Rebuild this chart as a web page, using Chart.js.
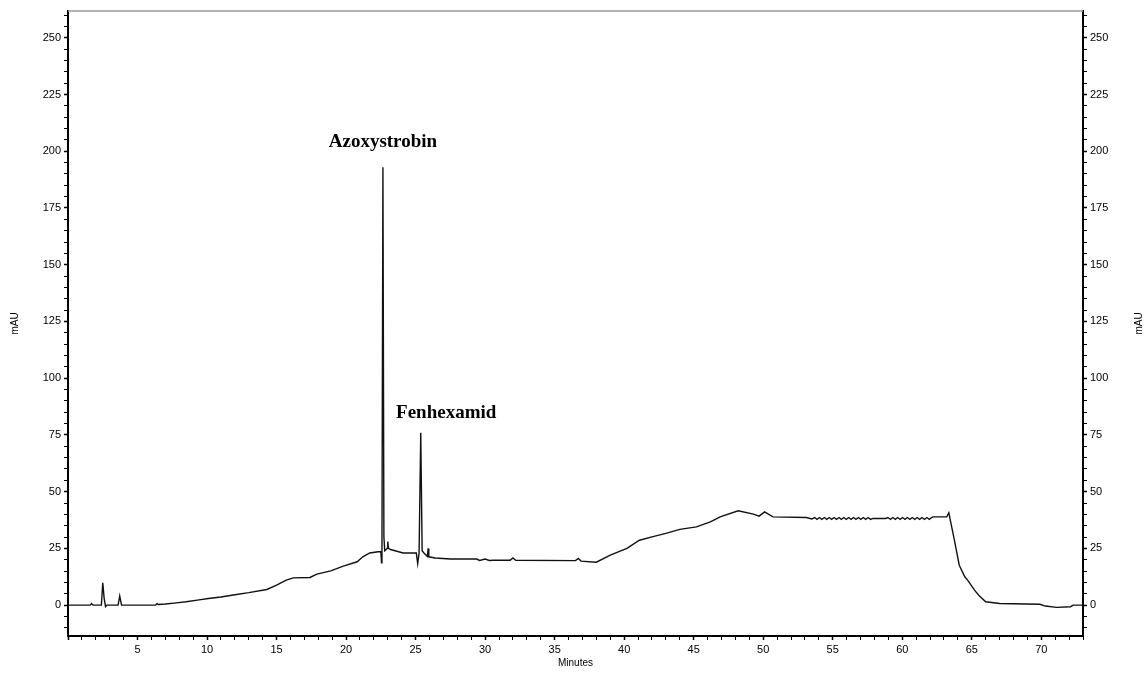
<!DOCTYPE html>
<html>
<head>
<meta charset="utf-8">
<script src="https://cdn.jsdelivr.net/npm/chart.js@4.4.0/dist/chart.umd.min.js"></script>
<style>
  html, body { margin: 0; padding: 0; background: #fff; }
  #wrap { position: relative; width: 1145px; height: 674px; }
</style>
</head>
<body>
<div id="wrap"><canvas id="chrom"></canvas></div>
<script>
// === CHROMATOGRAM DATA (minutes, mAU) ===
const times = [
  0, 1.6, 1.7, 1.8, 2.4, 2.5, 2.6, 2.7, 2.8, 3.6, 3.72, 3.85,
  6.3, 6.4, 6.5, 7.0, 7.8, 8.5, 9.3, 10.1, 11, 12, 13, 14.3, 15.0, 15.7, 16.2, 17.4,
  17.9, 18.9, 19.8, 20.8, 21.2, 21.7, 22.3, 22.5, 22.55, 22.58, 22.65, 22.72, 22.78,
  22.95, 23.0, 23.05, 23.2, 24.1, 25.05, 25.15, 25.25, 25.37, 25.47, 25.6, 25.85, 25.9, 25.95,
  26.4, 27.5, 29.4, 29.6, 30.0, 30.3, 30.6, 31.8, 32.0, 32.2, 36.5, 36.7, 36.9, 38.0,
  39.0, 40.2, 41.1, 42.0, 43.0, 44.0, 45.2, 46.2, 46.9, 48.2, 49.3, 49.7, 50.1, 50.7, 53.1, 53.5,
  53.7, 53.87, 54.05, 54.22, 54.4, 54.57, 54.75, 54.92, 55.1, 55.27, 55.45, 55.62, 55.8, 55.97,
  56.15, 56.32, 56.5, 56.67, 56.85, 57.02, 57.2, 57.37, 57.55, 57.72, 57.9,
  58.8, 58.97, 59.15, 59.32, 59.5, 59.67, 59.85, 60.02, 60.2, 60.37, 60.55, 60.72, 60.9,
  61.07, 61.25, 61.42, 61.6, 61.77, 61.95, 62.12, 62.2,
  63.2, 63.35, 63.75, 64.1, 64.5, 64.7, 65.2, 65.5, 66.0, 67.0, 69.9, 70.3, 71.1, 72.1, 72.3, 73
];
const mAU = [
  0, 0, 0.7, 0, 0, 9.8, 3, -0.7, 0, 0, 4, 0,
  0, 0.7, 0.3, 0.5, 1.0, 1.5, 2.2, 2.9, 3.6, 4.6, 5.5, 6.9, 8.8, 11, 12, 12.2,
  13.7, 15.1, 17.2, 19.1, 21.3, 23, 23.5, 23.5, 18.6, 24, 193, 30, 24,
  25, 28, 25, 24.5, 23, 23, 18.3, 23, 76, 24, 23, 21.5, 25, 21.3,
  20.8, 20.3, 20.3, 19.7, 20.3, 19.7, 19.8, 19.8, 20.8, 19.8, 19.6, 20.6, 19.4, 18.9,
  22, 25, 28.6, 30.1, 31.6, 33.4, 34.5, 36.7, 38.9, 41.6, 40.1, 39.2, 41.1, 38.9, 38.6, 38.0,
  38.6, 37.8, 38.6, 37.8, 38.6, 37.8, 38.6, 37.8, 38.6, 37.8, 38.6, 37.8, 38.6, 37.8,
  38.6, 37.8, 38.6, 37.8, 38.6, 37.8, 38.6, 37.8, 38.6, 37.8, 38.2,
  38.2, 38.6, 37.8, 38.6, 37.8, 38.6, 37.8, 38.6, 37.8, 38.6, 37.8, 38.6, 37.8,
  38.6, 37.8, 38.6, 37.8, 38.6, 37.8, 38.6, 38.9,
  38.9, 40.7, 28.6, 17.6, 12.5, 11, 6.6, 4.4, 1.5, 0.7, 0.4, -0.4, -1, -0.7, 0, 0
];

// peak labels, placed in data coordinates
const peakNames = ['Azoxystrobin', 'Fenhexamid'];
const peakLabelX = [22.65, 27.2];
const peakLabelY = [204, 84.5];

// axis ranges / ticks
const xMin = 0, xMax = 73, xStep = 1, xLabelEvery = 5;
const yMin = -13.6, yMax = 261.8, yStep = 5, yLabelEvery = 25;

const points = times.map((t, i) => ({ x: t, y: mAU[i] }));
const TICK_FONT = { family: 'Liberation Sans, Arial, sans-serif', size: 11 };

const overlayPlugin = {
    id: 'overlay',
    afterDraw(chart) {
        const { ctx, chartArea: a, scales } = chart;
        ctx.save();
        // grey top border
        ctx.strokeStyle = '#9a9a9a';
        ctx.lineWidth = 1.5;
        ctx.beginPath(); ctx.moveTo(a.left, a.top); ctx.lineTo(a.right, a.top); ctx.stroke();

        // peak names
        ctx.fillStyle = '#000';
        ctx.font = 'bold 19px "Liberation Serif", "Times New Roman", serif';
        ctx.textAlign = 'center'; ctx.textBaseline = 'middle';
        peakNames.forEach((n, i) => {
            ctx.fillText(n, scales.x.getPixelForValue(peakLabelX[i]), scales.y.getPixelForValue(peakLabelY[i]));
        });

        // axis titles
        ctx.font = '10px "Liberation Sans", Arial, sans-serif';
        ctx.fillText('Minutes', (a.left + a.right) / 2, 663);
        const midY = (a.top + a.bottom) / 2;
        [15, 1139].forEach(x => {
            ctx.save();
            ctx.translate(x, midY);
            ctx.rotate(-Math.PI / 2);
            ctx.fillText('mAU', 0, 0);
            ctx.restore();
        });
        ctx.restore();
    }
};

const yTicks = (side) => ({
    type: 'linear', position: side, min: yMin, max: yMax,
    afterFit: s => { s.width = side === 'left' ? 68 : 62; },
    border: { display: true, color: '#000', width: 2 },
    grid: { drawOnChartArea: false, drawTicks: true, tickLength: 4, tickColor: '#000',
            tickWidth: c => (c.tick && c.tick.value % yLabelEvery === 0 ? 1.5 : 1) },
    ticks: {
        stepSize: yStep, includeBounds: false, autoSkip: false, maxRotation: 0,
        color: '#000', font: TICK_FONT, padding: 3,
        callback: v => (v % yLabelEvery === 0 ? String(v) : '')
    }
});

new Chart(document.getElementById('chrom'), {
    type: 'line',
    data: {
        datasets: [{
            data: points, borderColor: '#111', borderWidth: 1.4,
            pointRadius: 0, tension: 0, fill: false, yAxisID: 'y'
        }, {
            data: points, borderColor: 'rgba(0,0,0,0)', borderWidth: 0,
            pointRadius: 0, yAxisID: 'y2'
        }]
    },
    options: {
        responsive: true, maintainAspectRatio: false, animation: false,
        layout: { padding: { top: 11, left: 0, right: 0, bottom: 0 } },
        plugins: { legend: { display: false }, tooltip: { enabled: false } },
        scales: {
            x: {
                type: 'linear', min: xMin, max: xMax,
                afterFit: s => { s.height = 38; },
                border: { display: true, color: '#000', width: 2 },
                grid: { drawOnChartArea: false, drawTicks: true, tickLength: 4, tickColor: '#000',
                        tickWidth: c => (c.tick && c.tick.value % xLabelEvery === 0 ? 1.5 : 1) },
                ticks: {
                    stepSize: xStep, autoSkip: false, maxRotation: 0, color: '#000', font: TICK_FONT, padding: 3,
                    callback: v => (v > 0 && v % xLabelEvery === 0 ? String(v) : '')
                }
            },
            y: yTicks('left'),
            y2: yTicks('right')
        }
    },
    plugins: [overlayPlugin]
});
</script>
</body>
</html>
